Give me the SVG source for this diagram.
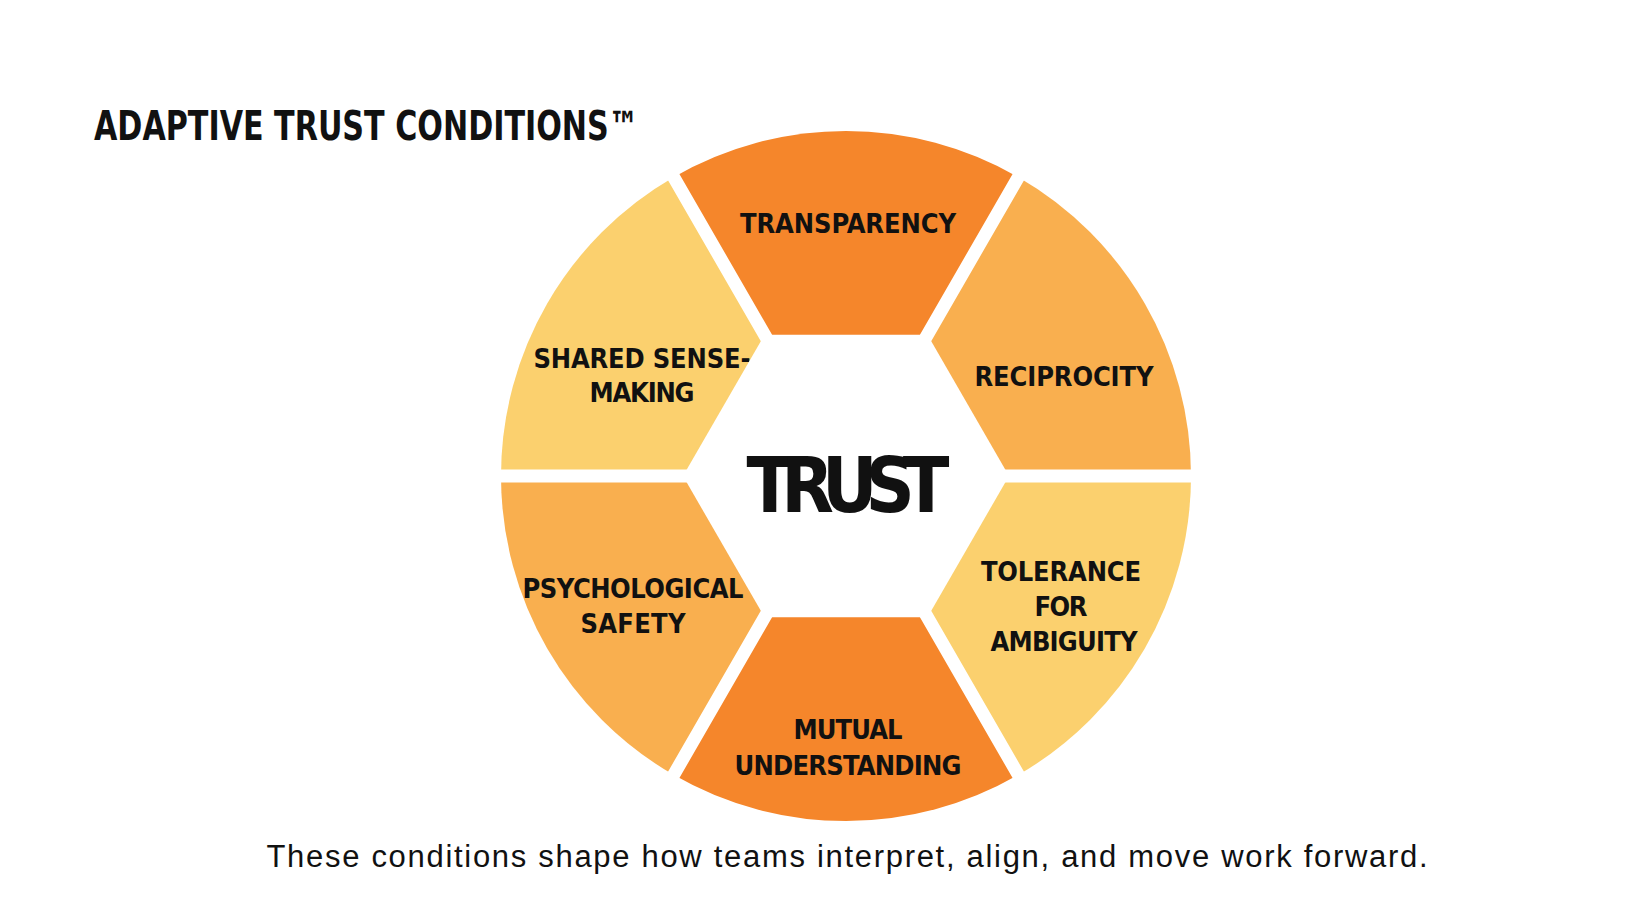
<svg xmlns="http://www.w3.org/2000/svg" width="1640" height="923" viewBox="0 0 1640 923">
<style>
.lbl{font-family:"DejaVu Sans Condensed","DejaVu Sans",sans-serif;font-weight:bold;font-size:27px;fill:#111;text-anchor:middle}
.d{fill:#F5862B}.m{fill:#F9AF4F}.l{fill:#FBD06E}
.gap{stroke:#fff;stroke-width:13}
</style>
<rect width="1640" height="923" fill="#fff"/>
<text x="94" y="140" font-family="DejaVu Sans Condensed,DejaVu Sans,sans-serif" font-weight="bold" font-size="40" fill="#111" textLength="545" lengthAdjust="spacingAndGlyphs">ADAPTIVE TRUST CONDITIONS™</text>
<g id="transparency"><path class="d" d="M846 476 L673.5 177.2 A345 345 0 0 1 1018.5 177.2 Z"/><text class="lbl" x="848" y="233" textLength="216">TRANSPARENCY</text></g>
<g id="reciprocity"><path class="m" d="M846 476 L1018.5 177.2 A345 345 0 0 1 1191 476 Z"/><text class="lbl" x="1064" y="386" textLength="179">RECIPROCITY</text></g>
<g id="tolerance"><path class="l" d="M846 476 L1191 476 A345 345 0 0 1 1018.5 774.8 Z"/><text class="lbl" x="1061" y="581" textLength="160">TOLERANCE</text><text class="lbl" x="1061" y="616" textLength="53">FOR</text><text class="lbl" x="1064" y="651" textLength="147">AMBIGUITY</text></g>
<g id="mutual"><path class="d" d="M846 476 L1018.5 774.8 A345 345 0 0 1 673.5 774.8 Z"/><text class="lbl" x="848" y="739" textLength="109">MUTUAL</text><text class="lbl" x="848" y="775" textLength="227">UNDERSTANDING</text></g>
<g id="psych"><path class="m" d="M846 476 L673.5 774.8 A345 345 0 0 1 501 476 Z"/><text class="lbl" x="633" y="598" textLength="221">PSYCHOLOGICAL</text><text class="lbl" x="633" y="633" textLength="105">SAFETY</text></g>
<g id="shared"><path class="l" d="M846 476 L501 476 A345 345 0 0 1 673.5 177.2 Z"/><text class="lbl" x="642" y="368" textLength="217">SHARED SENSE-</text><text class="lbl" x="642" y="402" textLength="105">MAKING</text></g>
<g id="connectors">
<path class="gap" d="M846 476 L1200 476 M846 476 L492 476 M846 476 L669 169 M846 476 L1023 169 M846 476 L669 783 M846 476 L1023 783"/>
</g>
<g id="trust">
<polygon fill="#fff" points="1009,476 927.5,617.2 764.5,617.2 683,476 764.5,334.8 927.5,334.8"/>
<text x="848" y="512" font-family="DejaVu Sans Condensed,DejaVu Sans,sans-serif" font-weight="bold" font-size="76" fill="#111" text-anchor="middle" textLength="203">TRUST</text>
</g>
<text x="847" y="867" font-family="Liberation Sans,Arial,sans-serif" font-size="31" fill="#111" text-anchor="middle" textLength="1161">These conditions shape how teams interpret, align, and move work forward.</text>
</svg>
